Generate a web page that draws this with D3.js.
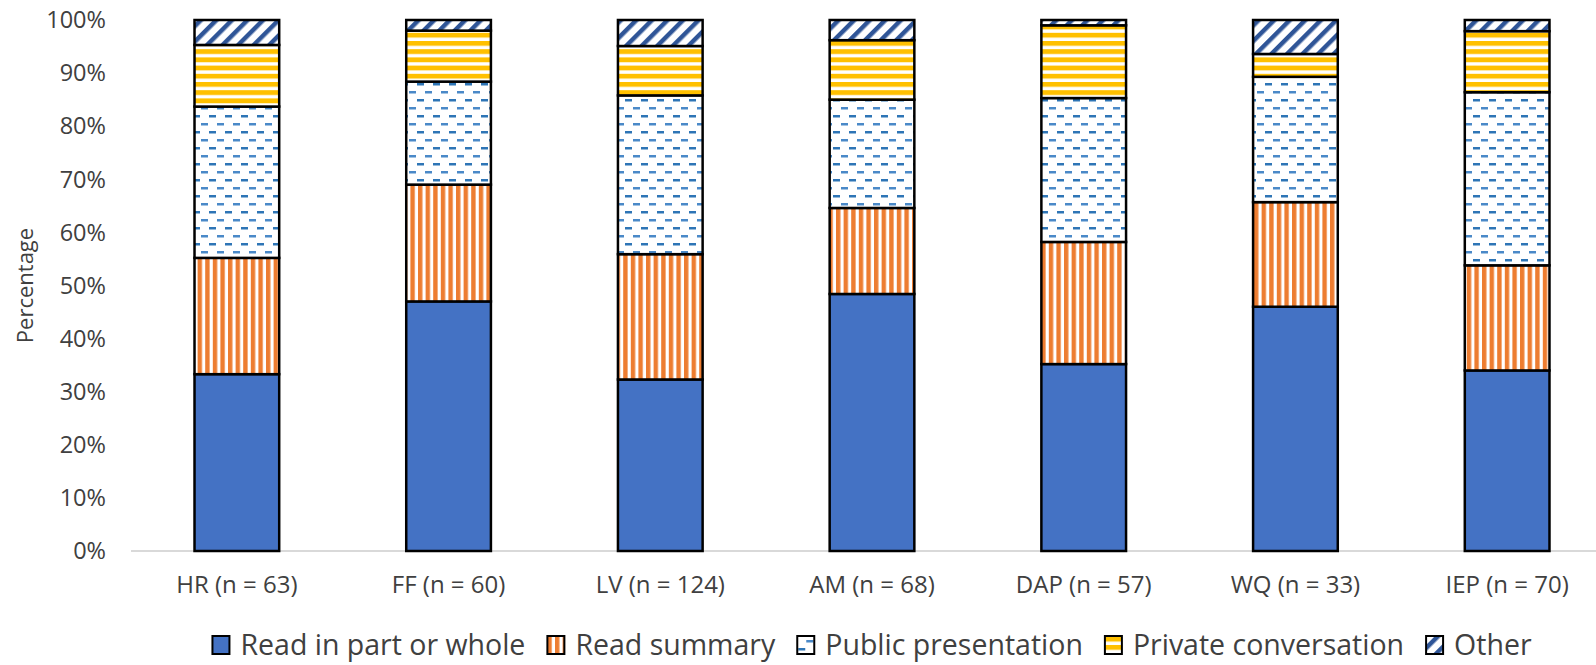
<!DOCTYPE html>
<html lang="en">
<head>
  <meta charset="UTF-8">
  <title>Stacked bars</title>
  <script src="https://d3js.org/d3.v7.min.js"></script>
  <style>
    body { margin: 0; background: #fff; overflow: hidden; }
    text { font-family: "Open Sans", "Noto Sans", sans-serif; fill: #404040; }
  </style>
</head>
<body>
  <svg width="1596" height="665"></svg>

  <script>
    // Data (percent per segment)
    const categories = ["HR (n = 63)", "FF (n = 60)", "LV (n = 124)", "AM (n = 68)", "DAP (n = 57)", "WQ (n = 33)", "IEP (n = 70)"];
    const seriesNames = ["Read in part or whole", "Read summary", "Public presentation", "Private conversation", "Other"];
    const readWhole   = [33.3, 47.0, 32.3, 48.4, 35.2, 46.0, 34.0];
    const readSummary = [21.9, 22.0, 23.6, 16.2, 23.0, 19.7, 19.8];
    const publicPres  = [28.5, 19.4, 29.9, 20.4, 27.1, 23.6, 32.6];
    const privateConv = [11.6,  9.6,  9.3, 11.2, 13.7,  4.3, 11.5];
    const other       = [ 4.7,  2.0,  4.9,  3.8,  1.0,  6.4,  2.1];
    const yTicks = [0, 10, 20, 30, 40, 50, 60, 70, 80, 90, 100];

    const seriesValues = [readWhole, readSummary, publicPres, privateConv, other];
    const seriesKeys = ["whole", "summary", "public", "private", "other"];

    const svg = d3.select("svg");
    const width = 1596;
    // the plot area runs a little past the right edge (the picture is cropped there)
    const plotLeft = 131, plotRight = 1613;
    const plotTop = 20, plotBottom = 551;

    // Build a table for d3.stack
    const table = categories.map((c, i) => {
      const row = { cat: c };
      seriesKeys.forEach((k, j) => { row[k] = seriesValues[j][i]; });
      return row;
    });

    const x = d3.scaleBand()
      .domain(categories)
      .range([plotLeft, plotRight])
      .paddingInner(0.6)
      .paddingOuter(0.3);

    const y = d3.scaleLinear()
      .domain([0, 100])
      .range([plotBottom, plotTop]);

    // Fill patterns
    const defs = svg.append("defs");

    // vertical orange stripes
    const pSum = defs.append("pattern").attr("id", "p-summary")
      .attr("patternUnits", "userSpaceOnUse").attr("width", 7.6).attr("height", 10);
    pSum.append("rect").attr("width", 7.6).attr("height", 10).attr("fill", "#fff");
    pSum.append("rect").attr("x", 0).attr("width", 4.4).attr("height", 10).attr("fill", "#ED7D31");

    // dashed blue on white
    const pPub = defs.append("pattern").attr("id", "p-public")
      .attr("patternUnits", "userSpaceOnUse").attr("width", 16).attr("height", 16);
    pPub.append("rect").attr("width", 16).attr("height", 16).attr("fill", "#fff");
    pPub.append("rect").attr("x", 1).attr("y", 3).attr("width", 7).attr("height", 2.5).attr("fill", "#2E75B6");
    pPub.append("rect").attr("x", 9).attr("y", 11).attr("width", 7).attr("height", 2.5).attr("fill", "#4A89C8");

    // horizontal gold stripes
    const pPriv = defs.append("pattern").attr("id", "p-private")
      .attr("patternUnits", "userSpaceOnUse").attr("width", 10).attr("height", 8.2);
    pPriv.append("rect").attr("width", 10).attr("height", 8.2).attr("fill", "#fff");
    pPriv.append("rect").attr("y", 0).attr("width", 10).attr("height", 4.8).attr("fill", "#FFC000");

    // diagonal dark-blue stripes
    const pOth = defs.append("pattern").attr("id", "p-other")
      .attr("patternUnits", "userSpaceOnUse").attr("width", 11).attr("height", 11)
      .attr("patternTransform", "rotate(45)");
    pOth.append("rect").attr("width", 11).attr("height", 11).attr("fill", "#fff");
    pOth.append("rect").attr("x", 0).attr("width", 4.5).attr("height", 11).attr("fill", "#2F5597");

    const fills = {
      whole: "#4472C4",
      summary: "url(#p-summary)",
      public: "url(#p-public)",
      private: "url(#p-private)",
      other: "url(#p-other)"
    };

    const stacked = d3.stack().keys(seriesKeys)(table);

    // x-axis baseline
    svg.append("line")
      .attr("x1", plotLeft).attr("x2", width)
      .attr("y1", y(0)).attr("y2", y(0))
      .attr("stroke", "#D9D9D9").attr("stroke-width", 2);

    // bars
    svg.selectAll(".layer")
      .data(stacked)
      .enter().append("g")
      .attr("class", "layer")
      .attr("fill", d => fills[d.key])
      .selectAll("rect")
      .data(d => d)
      .enter().append("rect")
      .attr("x", d => x(d.data.cat))
      .attr("width", x.bandwidth())
      .attr("y", d => y(d[1]))
      .attr("height", d => y(d[0]) - y(d[1]))
      .attr("stroke", "#000")
      .attr("stroke-width", 2.5);

    // y tick labels
    svg.selectAll(".ytick")
      .data(yTicks)
      .enter().append("text")
      .attr("class", "ytick")
      .attr("x", 106)
      .attr("y", d => y(d))
      .attr("dy", "0.35em")
      .attr("text-anchor", "end")
      .attr("font-size", 23.5)
      .text(d => d + "%");

    // x labels
    svg.selectAll(".xlabel")
      .data(categories)
      .enter().append("text")
      .attr("class", "xlabel")
      .attr("x", d => x(d) + x.bandwidth() / 2)
      .attr("y", y(0) + 34)
      .attr("dy", "0.35em")
      .attr("text-anchor", "middle")
      .attr("font-size", 24)
      .text(d => d);

    // y title
    svg.append("text")
      .attr("transform", `translate(25,${(y(0) + y(100)) / 2}) rotate(-90)`)
      .attr("text-anchor", "middle")
      .attr("dy", "0.35em")
      .attr("font-size", 22)
      .text("Percentage");

    // legend
    const legend = svg.append("g").attr("class", "legend");
    const items = legend.selectAll(".item")
      .data(seriesKeys)
      .enter().append("g")
      .attr("class", "item");
    items.append("rect")
      .attr("x", 0).attr("y", -9)
      .attr("width", 17).attr("height", 18)
      .attr("fill", d => fills[d])
      .attr("stroke", "#000").attr("stroke-width", 2);
    items.append("text")
      .attr("x", 28)
      .attr("dy", "0.35em")
      .attr("font-size", 28.5)
      .text((d, i) => seriesNames[i]);

    let offset = 0;
    const gap = 22;
    items.each(function() {
      const g = d3.select(this);
      g.attr("transform", `translate(${offset},0)`);
      offset += 28 + g.select("text").node().getComputedTextLength() + gap;
    });
    const totalW = offset - gap;
    legend.attr("transform", `translate(${(plotLeft + plotRight - totalW) / 2},645)`);
  </script>
</body>
</html>
